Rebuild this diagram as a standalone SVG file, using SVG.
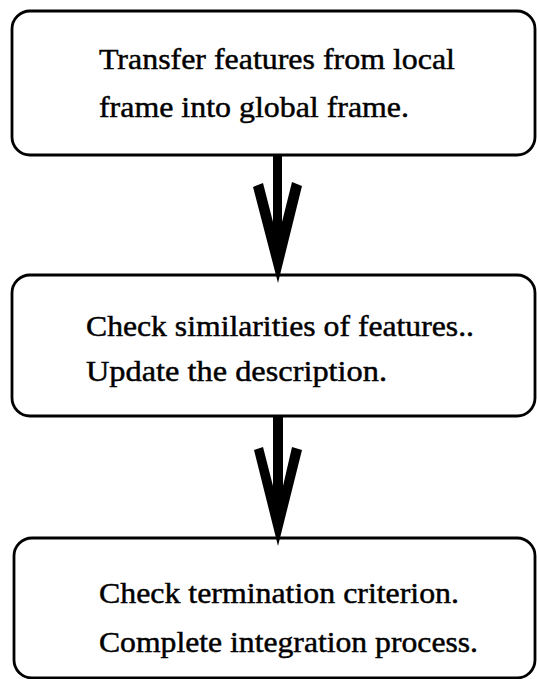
<svg xmlns="http://www.w3.org/2000/svg" width="537" height="679" viewBox="0 0 537 679">
  <style>
    .box { fill: #fff; stroke: #000; stroke-width: 2.8; }
    .label { font-family: "Liberation Serif", "Times New Roman", serif; font-size: 29px; fill: #000; stroke: #000; stroke-width: 0.45; }
    .arrow { fill: #000; stroke: none; }
  </style>
  <rect width="537" height="679" fill="#fff"/>

  <g id="transfer">
    <rect class="box" x="12" y="11" width="523" height="144" rx="18" ry="18"/>
    <text class="label" x="99" y="69" textLength="356" lengthAdjust="spacingAndGlyphs">Transfer features from local</text>
    <text class="label" x="99" y="117" textLength="310" lengthAdjust="spacingAndGlyphs">frame into global frame.</text>
  </g>

  <g id="similarity">
    <rect class="box" x="12" y="275" width="523" height="141" rx="18" ry="18"/>
    <text class="label" x="86" y="336" textLength="388" lengthAdjust="spacingAndGlyphs">Check similarities of features..</text>
    <text class="label" x="86" y="381" textLength="301" lengthAdjust="spacingAndGlyphs">Update the description.</text>
  </g>

  <g id="termination">
    <rect class="box" x="14" y="538" width="521" height="140" rx="18" ry="18"/>
    <text class="label" x="99" y="603" textLength="360" lengthAdjust="spacingAndGlyphs">Check termination criterion.</text>
    <text class="label" x="99" y="652" textLength="379" lengthAdjust="spacingAndGlyphs">Complete integration process.</text>
  </g>

  <g id="connectors">
    <!-- shaft with two thick barbs meeting at the tip -->
    <polygon class="arrow" points="273,156 273,222 263,183 253,187 278,283 302,186 292,182 282,222 282,156"/>
    <polygon class="arrow" points="273,417 273,486 263,447 254,450 278,546 302,450 292,447 283,486 283,417"/>
  </g>
</svg>
